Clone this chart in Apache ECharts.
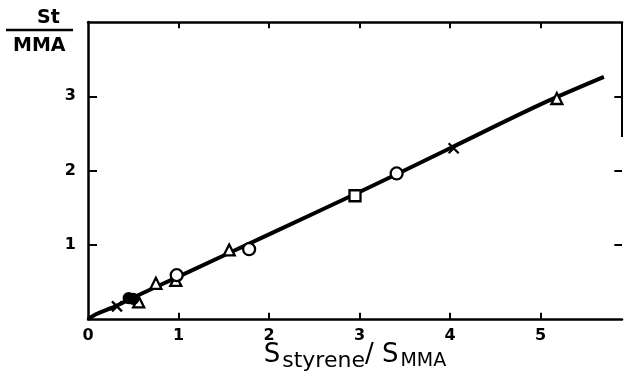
<!DOCTYPE html>
<html><head><meta charset="utf-8">
<script src="https://cdn.jsdelivr.net/npm/echarts@6/dist/echarts.min.js"></script>
<style>html,body{margin:0;padding:0;background:#fff}#c{width:624px;height:386px}</style>
</head><body><div id="c"></div>
<script>
// Data
const xTicks = [0, 1, 2, 3, 4, 5];
const yTicks = [1, 2, 3];
const curve = [[0,0],[0.1,0.07],[0.3,0.17],[0.5,0.29],[1,0.57],[2,1.14],[3,1.71],[4,2.30],[5,2.89],[5.7,3.26]];
const triangles = [[0.75,0.48],[0.97,0.52],[1.56,0.93],[5.18,2.97],[0.56,0.23]];
const circles = [[0.98,0.59],[1.78,0.94],[3.41,1.96]];
const squares = [[2.95,1.66]];
const crosses = [[0.32,0.17],[4.04,2.30]];
const filled = [[0.45,0.28],[0.50,0.27]];

const F = 'DejaVu Sans';
const XMAX = 5.9, YMAX = 4;
const chart = echarts.init(document.getElementById('c'));
const mk = (data, symbol, size, fill) => ({
  type:'scatter', data, symbol, symbolSize:size, z:5,
  itemStyle:{color:fill, borderColor:'#000', borderWidth:2.3, opacity:1}
});
const lineAxis = (pos, max) => ({
  type:'value', min:0, max, interval:1, position:pos,
  axisLine:{show:true, onZero:false, lineStyle:{color:'#000', width:2.5}},
  axisTick:{show:false}, axisLabel:{show:false}, splitLine:{show:false}
});
// inward tick marks built in data coordinates from the tick lists
const TX = 0.1, TY = 0.085;   // tick lengths in axis units
const tickSegs = [];
xTicks.filter(v => v > 0).forEach(v => {
  tickSegs.push([{coord:[v,0]},{coord:[v,TY]}]);
  tickSegs.push([{coord:[v,YMAX]},{coord:[v,YMAX-TY]}]);
});
yTicks.forEach(v => {
  tickSegs.push([{coord:[0,v]},{coord:[TX,v]}]);
  tickSegs.push([{coord:[XMAX,v]},{coord:[XMAX-0.085,v]}]);
});
// partial right frame as in the reference
tickSegs.push([{coord:[XMAX,2.45]},{coord:[XMAX,YMAX]}]);

chart.setOption({
  animation:false,
  grid:{left:88, right:2, top:22, bottom:67},
  xAxis:[{
    ...lineAxis('bottom', XMAX),
    axisLabel:{show:true, color:'#000', fontFamily:F, fontSize:16, fontWeight:'bold', margin:9, showMaxLabel:false,
      formatter:v => xTicks.includes(v) ? String(v) : ''},
    name:'{S|S}{sub|styrene}{S|/ S}{sub2|MMA}',
    nameLocation:'middle', nameGap:23, nameMoveOverlap:false,
    nameTextStyle:{rich:{
      S:{fontFamily:F, fontSize:26, color:'#000', padding:[0,0,4,0]},
      sub:{fontFamily:F, fontSize:22, color:'#000', padding:[8,0,0,2]},
      sub2:{fontFamily:F, fontSize:19, color:'#000', padding:[8,0,0,2]}
    }}
  },
    lineAxis('top', XMAX)
  ],
  yAxis:[{
    ...lineAxis('left', YMAX),
    axisLabel:{show:true, color:'#000', fontFamily:F, fontSize:16, fontWeight:'bold', margin:12,
      formatter:v => yTicks.includes(v) ? String(v) : ''}
  }],
  graphic:[
    {type:'text', left:37, top:9, style:{text:'St', font:'bold 19px "DejaVu Sans"', fill:'#000'}},
    {type:'line', shape:{x1:6, y1:30, x2:73, y2:30}, style:{stroke:'#000', lineWidth:2.5}},
    {type:'text', left:13, top:37, style:{text:'MMA', font:'bold 19px "DejaVu Sans"', fill:'#000'}}
  ],
  series:[
    {type:'line', data:curve, smooth:0.3, symbol:'none', z:3,
     lineStyle:{color:'#000', width:4},
     markLine:{silent:true, symbol:'none', label:{show:false}, animation:false,
       lineStyle:{color:'#000', width:2, type:'solid'},
       emphasis:{disabled:true},
       data:tickSegs}},
    mk(triangles, 'triangle', 11, '#fff'),
    mk(circles, 'circle', 12, '#fff'),
    mk(squares, 'rect', 11, '#fff'),
    mk(crosses, 'path://M0,0L10,10M10,0L0,10', 10, 'none'),
    mk(filled, 'circle', 10, '#000')
  ]
});
</script></body></html>
